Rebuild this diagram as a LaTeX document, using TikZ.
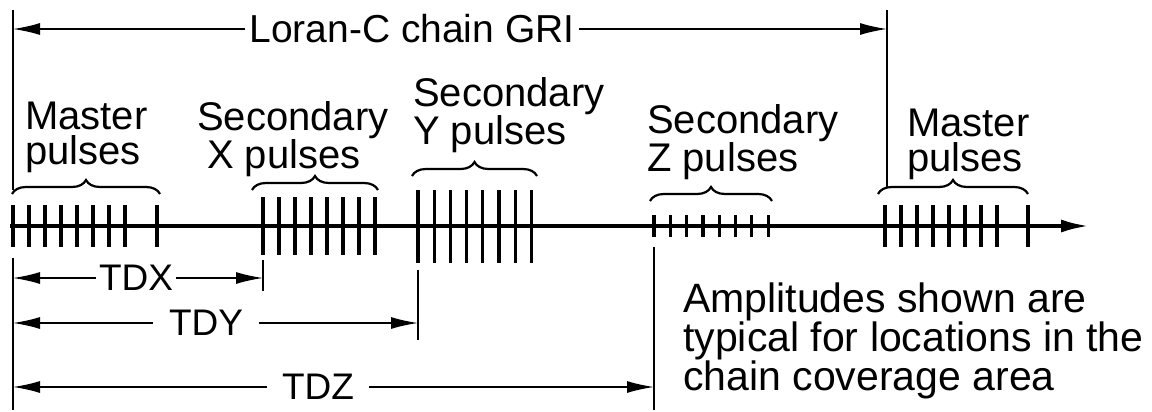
\documentclass[tikz,border=0pt]{standalone}
\usepackage{fontspec}
\setmainfont{Liberation Sans}
\usetikzlibrary{arrows.meta,decorations.pathreplacing}
\begin{document}
\begin{tikzpicture}[x=1pt,y=-1pt,
  timeaxis/.style={line width=3.6pt,-{Latex[length=28pt,width=13pt]}},
  pulse/.style={line width=3.2pt},
  vline/.style={line width=2.6pt},
  dimline/.style={line width=1.5pt},
  dimtip/.style={-{Latex[length=27pt,width=12pt]}},
  bracestyle/.style={line width=2.2pt,decorate,decoration={brace,amplitude=14pt}},
  lab/.style={font=\fontsize{40}{35}\selectfont,inner sep=0pt,anchor=north west,align=left},
  amp/.style={font=\fontsize{41}{38}\selectfont,inner sep=0pt,anchor=north west,align=left},
  tdlab/.style={font=\fontsize{37}{37}\selectfont,inner ysep=0pt},
  titlelab/.style={font=\fontsize{39}{39}\selectfont,inner ysep=0pt,inner xsep=4pt},
]
\useasboundingbox (0,0) rectangle (1152,412);

% time axis
\coordinate (axs) at (10,226);
\coordinate (axe) at (1089,226);
\draw[timeaxis] (axs) -- (axe);

% master pulses (left)
\foreach \i in {0,...,7} \draw[pulse] ({13+16*\i},205) -- ({13+16*\i},247);
\draw[pulse] (157,205) -- (157,247);
% secondary X
\foreach \i in {0,...,7} \draw[pulse] ({263+16*\i},197) -- ({263+16*\i},255);
% secondary Y
\foreach \i in {0,...,7} \draw[pulse] ({418+16.2*\i},190) -- ({418+16.2*\i},263);
% secondary Z
\foreach \i in {0,...,7} \draw[pulse] ({654+16.3*\i},215) -- ({654+16.3*\i},237);
% master pulses (right)
\foreach \i in {0,...,7} \draw[pulse] ({885+16*\i},205) -- ({885+16*\i},247);
\draw[pulse] (1028,205) -- (1028,247);

% braces
\draw[bracestyle] (12,194) -- (160,194);
\draw[bracestyle] (252,190) -- (378,190);
\draw[bracestyle] (412,176) -- (537,176);
\draw[bracestyle] (650,201) -- (772,201);
\draw[bracestyle] (878,194) -- (1028,194);

% vertical reference lines
\coordinate (ltop) at (13,10);
\coordinate (lmid) at (13,190);
\coordinate (lbot1) at (13,258);
\coordinate (lbot2) at (13,410);
\coordinate (rtop) at (887,10);
\coordinate (rmid) at (887,187);
\coordinate (xv1) at (263,260);
\coordinate (xv2) at (263,291);
\coordinate (yv1) at (418,270);
\coordinate (yv2) at (418,340);
\coordinate (zv1) at (654,247);
\coordinate (zv2) at (654,410);
\draw[vline] (ltop) -- (lmid);
\draw[vline] (lbot1) -- (lbot2);
\draw[vline] (rtop) -- (rmid);
\draw[vline] (xv1) -- (xv2);
\draw[vline] (yv1) -- (yv2);
\draw[vline] (zv1) -- (zv2);

% GRI
\node[titlelab] (gri) at (412,29) {Loran-C chain GRI};
\coordinate (gril) at (13,29);
\coordinate (grir) at (887,29);
\draw[dimline,dimtip] (gri.west) -- (gril);
\draw[dimline,dimtip] (gri.east) -- (grir);

% time differences
\node[tdlab,inner xsep=3pt] (tdx) at (136,278) {TDX};
\coordinate (tdxl) at (13,278);
\coordinate (tdxr) at (263,278);
\draw[dimline,dimtip] (tdx.west) -- (tdxl);
\draw[dimline,dimtip] (tdx.east) -- (tdxr);

\node[tdlab,inner xsep=16pt] (tdy) at (206,323) {TDY};
\coordinate (tdyl) at (13,323);
\coordinate (tdyr) at (418,323);
\draw[dimline,dimtip] (tdy.west) -- (tdyl);
\draw[dimline,dimtip] (tdy.east) -- (tdyr);

\node[tdlab,inner xsep=15pt] (tdz) at (318,387) {TDZ};
\coordinate (tdzl) at (13,387);
\coordinate (tdzr) at (654,387);
\draw[dimline,dimtip] (tdz.west) -- (tdzl);
\draw[dimline,dimtip] (tdz.east) -- (tdzr);

% pulse labels (north = first baseline - 28.6)
\node[lab] (mlab) at (25,101.4) {Master\\pulses};
\node[lab] (xlab) at (197,101.4) {Secondary\\\hspace*{10pt}X pulses};
\node[lab] (ylab) at (413,77.4) {Secondary\\Y pulses};
\node[lab] (zlab) at (647,104.4) {Secondary\\Z pulses};
\node[lab] (m2lab) at (907,108.4) {Master\\pulses};

% note
\node[amp] (amp) at (683,282.6) {Amplitudes shown are\\typical for locations in the\\chain coverage area};
\end{tikzpicture}
\end{document}
